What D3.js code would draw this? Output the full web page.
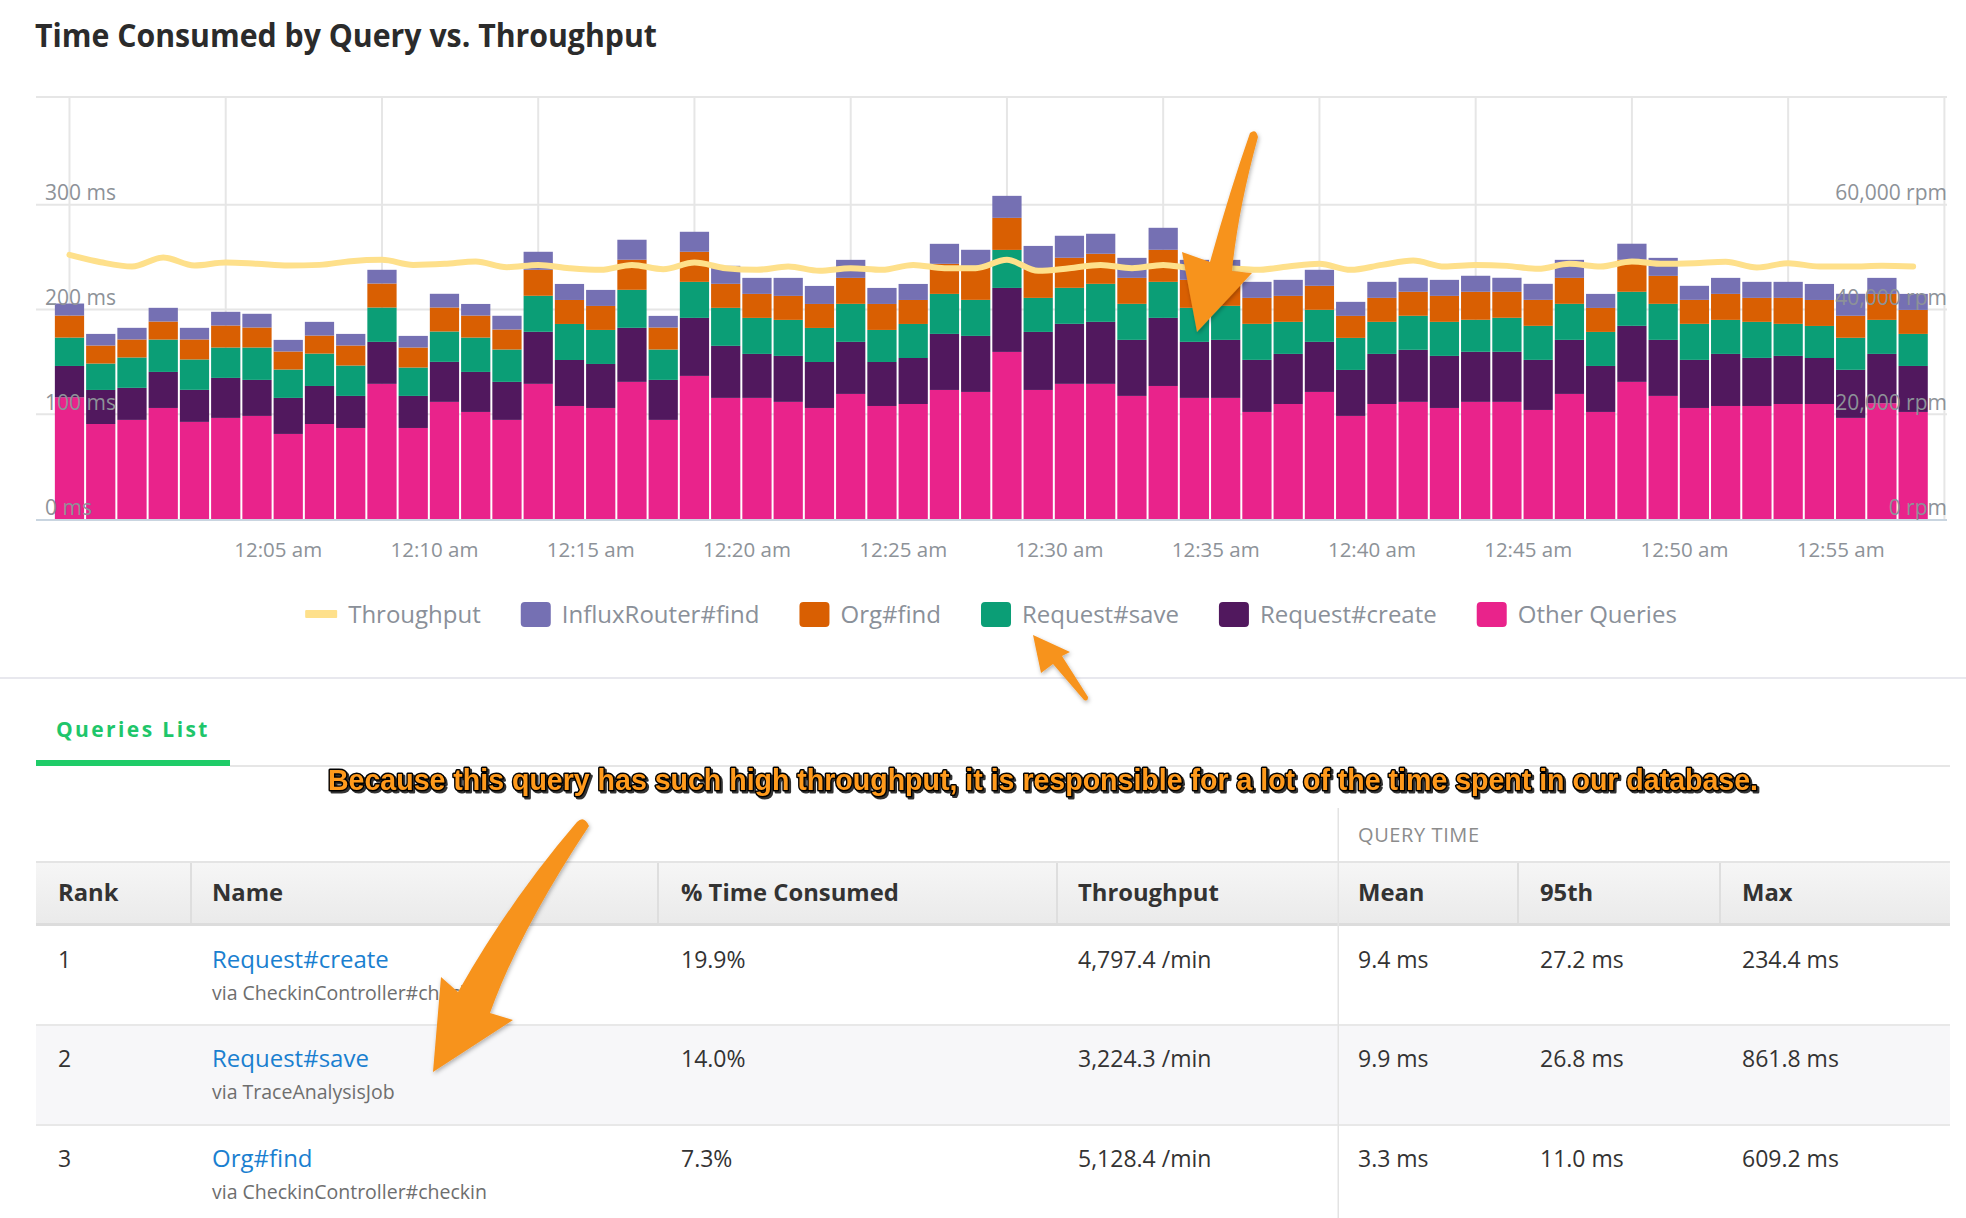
<!DOCTYPE html>
<html>
<head>
<meta charset="utf-8">
<script src="https://d3js.org/d3.v7.min.js"></script>
<style>
  body { margin: 0; background: #fff; }
  svg { display: block; font-family: "Open Sans", sans-serif; }
</style>
</head>
<body>
<script>
// one bar per minute, 12:00 am .. 12:59 am (ms per minute)
var otherQueries = [116.2, 90.7, 94.6, 106.0, 92.7, 96.5, 98.4, 81.2, 90.7, 86.9,
  129.0, 86.9, 111.8, 102.2, 94.6, 129.0, 107.9, 106.0, 130.9, 94.6,
  136.6, 115.6, 115.6, 111.8, 106.0, 119.4, 107.9, 109.8, 123.2, 121.3,
  159.5, 123.2, 129.0, 129.0, 117.5, 127.0, 115.6, 115.6, 102.2, 109.8,
  121.3, 98.4, 109.8, 111.8, 106.0, 111.8, 111.8, 104.1, 119.4, 102.2,
  130.9, 117.5, 106.0, 107.9, 107.9, 109.8, 109.8, 96.5, 110.5, 102.2];
var requestCreate = [29.9, 32.5, 30.6, 34.4, 30.6, 38.2, 34.4, 34.4, 36.3, 30.6,
  40.1, 30.6, 38.2, 38.2, 36.3, 49.7, 43.9, 42.0, 51.6, 38.2,
  55.4, 49.7, 42.0, 43.9, 43.9, 49.7, 42.0, 43.9, 53.5, 53.5,
  61.1, 55.4, 57.3, 59.2, 53.5, 65.0, 53.5, 55.4, 49.7, 47.8,
  47.8, 43.9, 47.8, 49.7, 49.7, 47.8, 47.8, 47.8, 51.6, 43.9,
  53.5, 53.5, 45.9, 49.7, 45.9, 45.9, 43.9, 45.9, 47.1, 43.9];
var requestSave = [27.1, 25.2, 29.0, 30.9, 29.0, 29.0, 30.9, 27.1, 30.9, 29.0,
  32.8, 27.1, 29.0, 32.8, 30.9, 34.4, 34.4, 32.5, 36.3, 29.0,
  34.4, 36.3, 34.4, 34.4, 32.5, 36.3, 30.6, 32.5, 38.2, 34.4,
  36.3, 32.5, 34.4, 36.3, 34.4, 34.4, 32.5, 32.5, 34.4, 30.6,
  30.6, 30.6, 30.6, 32.5, 32.5, 30.6, 32.5, 32.5, 34.4, 32.5,
  32.5, 34.4, 34.4, 32.5, 34.4, 30.6, 30.6, 30.6, 32.5, 30.6];
var orgFind = [21.0, 17.2, 17.2, 17.2, 19.1, 21.0, 19.1, 17.2, 17.2, 19.1,
  22.9, 19.1, 22.9, 21.0, 19.1, 24.8, 22.9, 22.9, 28.7, 21.0,
  28.7, 22.9, 22.9, 22.9, 22.9, 24.8, 24.8, 22.9, 28.7, 32.5,
  30.6, 26.7, 28.7, 28.7, 24.8, 30.6, 26.7, 24.8, 24.8, 24.8,
  22.9, 21.0, 22.9, 22.9, 24.8, 26.7, 24.8, 24.8, 24.8, 22.9,
  30.6, 26.7, 22.9, 24.8, 22.9, 24.8, 24.8, 21.0, 24.8, 22.9];
var influxFind = [11.5, 11.1, 11.1, 13.1, 11.1, 13.1, 13.1, 11.1, 13.1, 11.1,
  13.1, 11.1, 13.1, 11.1, 13.1, 17.2, 15.3, 15.3, 19.1, 11.1,
  19.1, 17.2, 15.3, 17.2, 17.2, 17.2, 15.3, 15.3, 19.1, 15.3,
  21.0, 22.9, 21.0, 19.1, 19.1, 21.0, 19.1, 19.1, 15.3, 15.3,
  15.3, 13.4, 15.3, 13.4, 15.3, 15.3, 13.4, 15.3, 17.2, 13.4,
  15.3, 17.2, 13.4, 15.3, 15.3, 15.3, 15.3, 21.0, 15.3, 15.3];
// rpm
var throughput = [50430, 49030, 48210, 49930, 48400, 48970, 48720, 48400, 48520, 49230,
  49480, 48520, 48720, 49160, 48080, 48520, 47890, 47570, 48520, 47700,
  48970, 47890, 47570, 48210, 47380, 47890, 47570, 48520, 47890, 47890,
  49480, 47380, 47890, 48520, 47890, 48520, 47890, 47890, 47570, 48210,
  48720, 47570, 48520, 49350, 48210, 48520, 48330, 47760, 48720, 48210,
  49160, 48720, 48840, 49100, 48020, 48840, 48210, 48210, 48330, 48210];

var seriesKeys = ["other", "create", "save", "org", "influx"];
var seriesNames = ["Other Queries", "Request#create", "Request#save", "Org#find", "InfluxRouter#find"];
var seriesColors = ["#e9238b", "#51185e", "#0b9e76", "#d95f02", "#7570b3"];
var lineColor = "#fee08b";

var msTicks = [0, 100, 200, 300];
var rpmTicks = [0, 20000, 40000, 60000];

// queries table
var tableHeaders = ["Rank", "Name", "% Time Consumed", "Throughput", "Mean", "95th", "Max"];
var ranks = ["1", "2", "3"];
var queryNames = ["Request#create", "Request#save", "Org#find"];
var callers = ["via CheckinController#checkin", "via TraceAnalysisJob", "via CheckinController#checkin"];
var pctTime = ["19.9%", "14.0%", "7.3%"];
var queryRpm = ["4,797.4 /min", "3,224.3 /min", "5,128.4 /min"];
var meanTime = ["9.4 ms", "9.9 ms", "3.3 ms"];
var p95Time = ["27.2 ms", "26.8 ms", "11.0 ms"];
var maxTime = ["234.4 ms", "861.8 ms", "609.2 ms"];

var svgWidth = 1966;
var svgHeight = 1218;

var chart = { left: 36, right: 1947, top: 97, bottom: 519 };

var svg = d3.select("body")
  .append("svg")
  .attr("width", svgWidth)
  .attr("height", svgHeight);

var defs = svg.append("defs");
var shadow = defs.append("filter").attr("id", "shadow")
  .attr("x", "-20%").attr("y", "-20%").attr("width", "140%").attr("height", "140%");
shadow.append("feDropShadow")
  .attr("dx", 1).attr("dy", 2).attr("stdDeviation", 2)
  .attr("flood-color", "#000").attr("flood-opacity", 0.3);
var textShadow = defs.append("filter").attr("id", "textShadow");
textShadow.append("feDropShadow")
  .attr("dx", 2).attr("dy", 2).attr("stdDeviation", 0.6)
  .attr("flood-color", "#000").attr("flood-opacity", 0.8);
var headGrad = defs.append("linearGradient").attr("id", "headGrad")
  .attr("x1", 0).attr("y1", 0).attr("x2", 0).attr("y2", 1);
headGrad.append("stop").attr("offset", "0%").attr("stop-color", "#f6f6f6");
headGrad.append("stop").attr("offset", "100%").attr("stop-color", "#eaeaea");

// title
svg.append("text")
  .attr("x", 35)
  .attr("y", 47)
  .attr("textLength", 622)
  .attr("lengthAdjust", "spacingAndGlyphs")
  .style("font-size", "33px")
  .style("font-weight", 700)
  .style("fill", "#2b2b2b")
  .text("Time Consumed by Query vs. Throughput");

// scales
var t0 = new Date(2017, 5, 1, 0, 0, 0);
var minutes = d3.range(60).map(i => d3.timeMinute.offset(t0, i));

var x = d3.scaleTime()
  .domain([new Date(+t0 - 64300), new Date(+t0 + 3605000)])
  .range([chart.left, chart.right]);

var y = d3.scaleLinear()
  .domain([0, 400])
  .range([chart.bottom, 100]);

var yRight = d3.scaleLinear()
  .domain([0, 80000])
  .range([chart.bottom, 100]);

var data = minutes.map((t, i) => ({
  time: t,
  other: otherQueries[i],
  create: requestCreate[i],
  save: requestSave[i],
  org: orgFind[i],
  influx: influxFind[i],
  rpm: throughput[i]
}));

var chartGroup = svg.append("g");

// gridlines
var gridTimes = d3.timeMinute.every(5).range(t0, d3.timeMinute.offset(t0, 61));
chartGroup.append("g")
  .selectAll("line")
  .data(gridTimes)
  .enter()
  .append("line")
  .attr("x1", d => x(d)).attr("x2", d => x(d))
  .attr("y1", chart.top).attr("y2", chart.bottom)
  .style("stroke", "#e6e6e6").style("stroke-width", 2);

chartGroup.append("g")
  .selectAll("line")
  .data(msTicks.slice(1))
  .enter()
  .append("line")
  .attr("x1", chart.left).attr("x2", chart.right)
  .attr("y1", d => y(d)).attr("y2", d => y(d))
  .style("stroke", "#e6e6e6").style("stroke-width", 2);

chartGroup.append("line")
  .attr("x1", chart.left).attr("x2", chart.right)
  .attr("y1", chart.top).attr("y2", chart.top)
  .style("stroke", "#e6e6e6").style("stroke-width", 2);

// stacked bars
var stacked = d3.stack().keys(seriesKeys)(data);
var pitch = x(minutes[1]) - x(minutes[0]);
var barWidth = pitch - 2;

chartGroup.append("g")
  .selectAll("g")
  .data(stacked)
  .enter()
  .append("g")
  .attr("fill", (d, i) => seriesColors[i])
  .selectAll("rect")
  .data(d => d)
  .enter()
  .append("rect")
  .attr("x", d => x(d.data.time) - barWidth / 2)
  .attr("y", d => y(d[1]))
  .attr("width", barWidth)
  .attr("height", d => y(d[0]) - y(d[1]));

// x axis baseline
chartGroup.append("line")
  .attr("x1", chart.left).attr("x2", chart.right)
  .attr("y1", chart.bottom + 1).attr("y2", chart.bottom + 1)
  .style("stroke", "#c9d5e0").style("stroke-width", 2);

// throughput line
var rpmLine = d3.line()
  .x(d => x(d.time))
  .y(d => yRight(d.rpm))
  .curve(d3.curveMonotoneX);

chartGroup.append("path")
  .datum(data)
  .attr("d", rpmLine)
  .style("fill", "none")
  .style("stroke", lineColor)
  .style("stroke-width", 6)
  .style("stroke-linecap", "round")
  .style("stroke-linejoin", "round");

// axes
var fmtTime = d => d3.timeFormat("%-I:%M %p")(d).toLowerCase();
var labelTimes = gridTimes.slice(1, 12);

var xAxis = chartGroup.append("g")
  .attr("transform", `translate(0, ${chart.bottom})`)
  .call(d3.axisBottom(x).tickValues(labelTimes).tickFormat(fmtTime).tickSize(0));
xAxis.select(".domain").remove();
xAxis.selectAll("text")
  .attr("x", 8)
  .attr("y", 38)
  .attr("dy", 0)
  .attr("text-anchor", "start")
  .style("font-family", "Open Sans")
  .style("font-size", "20.5px")
  .style("fill", "#8d9298");

var yAxisLeft = chartGroup.append("g")
  .attr("transform", `translate(${chart.left + 9}, 0)`)
  .call(d3.axisLeft(y).tickValues(msTicks).tickFormat(d => d + " ms").tickSize(0));
yAxisLeft.select(".domain").remove();
yAxisLeft.selectAll("text")
  .attr("x", 0)
  .attr("dy", -5)
  .attr("text-anchor", "start")
  .style("font-family", "Open Sans")
  .style("font-size", "21px")
  .style("fill", "#8d9298");

var yAxisRight = chartGroup.append("g")
  .attr("transform", `translate(${chart.right}, 0)`)
  .call(d3.axisRight(yRight).tickValues(rpmTicks).tickFormat(d => d3.format(",")(d) + " rpm").tickSize(0));
yAxisRight.select(".domain").remove();
yAxisRight.selectAll("text")
  .attr("x", 0)
  .attr("dy", -5)
  .attr("text-anchor", "end")
  .style("font-family", "Open Sans")
  .style("font-size", "21px")
  .style("fill", "#8d9298");

// legend
var legendItems = [{ name: "Throughput", color: lineColor, line: true }];
[4, 3, 2, 1, 0].forEach(i => legendItems.push({ name: seriesNames[i], color: seriesColors[i], line: false }));

var legend = svg.append("g").attr("transform", "translate(0, 614)");
var cursor = 0;
legendItems.forEach(function(item) {
  var g = legend.append("g").attr("transform", `translate(${cursor}, 0)`);
  var sw = item.line ? 32 : 30;
  if (item.line) {
    g.append("rect").attr("x", 0).attr("y", -4).attr("width", sw).attr("height", 8)
      .attr("rx", 1).attr("fill", item.color);
  } else {
    g.append("rect").attr("x", 0).attr("y", -12).attr("width", sw).attr("height", 25)
      .attr("rx", 4).attr("fill", item.color);
  }
  var t = g.append("text")
    .attr("x", sw + 11)
    .attr("y", 8.5)
    .style("font-size", "24px")
    .style("fill", "#8a9099")
    .text(item.name);
  cursor += sw + 11 + t.node().getComputedTextLength() + 40;
});
cursor -= 40;
legend.attr("transform", `translate(${991 - cursor / 2}, 614)`);

// separator
svg.append("rect").attr("x", 0).attr("y", 677).attr("width", svgWidth).attr("height", 2).attr("fill", "#e8e8ee");

// tab
svg.append("text")
  .attr("x", 56).attr("y", 737)
  .style("font-size", "21px")
  .style("font-weight", 700)
  .style("letter-spacing", "2.4px")
  .style("fill", "#1ec66a")
  .text("Queries List");
svg.append("rect").attr("x", 230).attr("y", 765).attr("width", 1720).attr("height", 2).attr("fill", "#e6e6e6");
svg.append("rect").attr("x", 36).attr("y", 760).attr("width", 194).attr("height", 6).attr("fill", "#1fcc68");

// table
var colX = [58, 212, 681, 1078, 1358, 1540, 1742];
var divX = [191, 658, 1057, 1518, 1720];
var groupX = 1338;
var tableRight = 1950;

svg.append("text")
  .attr("x", 1358).attr("y", 842)
  .style("font-size", "20px")
  .style("letter-spacing", "0.6px")
  .style("fill", "#8c8c8c")
  .text("QUERY TIME");

svg.append("rect").attr("x", 36).attr("y", 862).attr("width", tableRight - 36).attr("height", 62).attr("fill", "url(#headGrad)");
svg.append("rect").attr("x", 36).attr("y", 861).attr("width", tableRight - 36).attr("height", 2).attr("fill", "#e4e4e4");
svg.append("rect").attr("x", 36).attr("y", 923).attr("width", tableRight - 36).attr("height", 3).attr("fill", "#dcdcdc");
svg.append("rect").attr("x", 36).attr("y", 1026).attr("width", tableRight - 36).attr("height", 98).attr("fill", "#f7f7f9");
svg.append("rect").attr("x", 36).attr("y", 1024).attr("width", tableRight - 36).attr("height", 2).attr("fill", "#e8e8e8");
svg.append("rect").attr("x", 36).attr("y", 1124).attr("width", tableRight - 36).attr("height", 2).attr("fill", "#e8e8e8");

svg.append("g").selectAll("rect")
  .data(divX)
  .enter()
  .append("rect")
  .attr("x", d => d - 1).attr("y", 863).attr("width", 2).attr("height", 60)
  .attr("fill", "#dedede");
svg.append("rect").attr("x", groupX - 0.5).attr("y", 808).attr("width", 1.5).attr("height", 410).attr("fill", "#e3e3e3");

svg.append("g").selectAll("text")
  .data(tableHeaders)
  .enter()
  .append("text")
  .attr("x", (d, i) => colX[i])
  .attr("y", 901)
  .style("font-size", "23.8px")
  .style("font-weight", 700)
  .style("fill", "#333")
  .text(d => d);

var rowY = [968, 1067, 1167];
var rows = ranks.map((r, i) => [r, null, pctTime[i], queryRpm[i], meanTime[i], p95Time[i], maxTime[i]]);

rows.forEach(function(row, i) {
  var g = svg.append("g");
  row.forEach(function(cell, j) {
    if (cell === null) return;
    g.append("text")
      .attr("x", colX[j]).attr("y", rowY[i])
      .style("font-size", "23px")
      .style("fill", "#333")
      .text(cell);
  });
  g.append("text")
    .attr("x", colX[1]).attr("y", rowY[i])
    .style("font-size", "24px")
    .style("fill", "#1a7fd0")
    .text(queryNames[i]);
  g.append("text")
    .attr("x", colX[1]).attr("y", rowY[i] + 32)
    .style("font-size", "19.5px")
    .style("fill", "#6e6e6e")
    .text(callers[i]);
});

// annotations
svg.append("text")
  .attr("x", 328).attr("y", 790)
  .attr("textLength", 1430)
  .attr("lengthAdjust", "spacingAndGlyphs")
  .attr("filter", "url(#textShadow)")
  .style("font-family", "Liberation Sans Narrow, Liberation Sans, sans-serif")
  .style("font-size", "30px")
  .style("font-weight", 700)
  .style("fill", "#ff9a1c")
  .style("stroke", "#000")
  .style("stroke-width", 3)
  .style("paint-order", "stroke")
  .style("stroke-linejoin", "round")
  .text("Because this query has such high throughput, it is responsible for a lot of the time spent in our database.");

var arrows = [
  "M1250,133 Q1256,128 1258,137 Q1238,210 1232,271 L1252,273 L1197,332 L1182,252 L1210,262 Q1230,190 1250,133 Z",
  "M1033,635 L1070,652 L1062,656 L1088,697 Q1088,702 1084,700 L1053,664 L1041,673 Z",
  "M577,822 Q584,815 589,826 Q520,930 490,1013 L513,1020 L433,1072 L441,977 L458,992 Q510,900 577,822 Z"
];
svg.append("g").selectAll("path")
  .data(arrows)
  .enter()
  .append("path")
  .attr("d", d => d)
  .attr("fill", "#f7931e")
  .attr("filter", "url(#shadow)");
</script>
</body>
</html>
